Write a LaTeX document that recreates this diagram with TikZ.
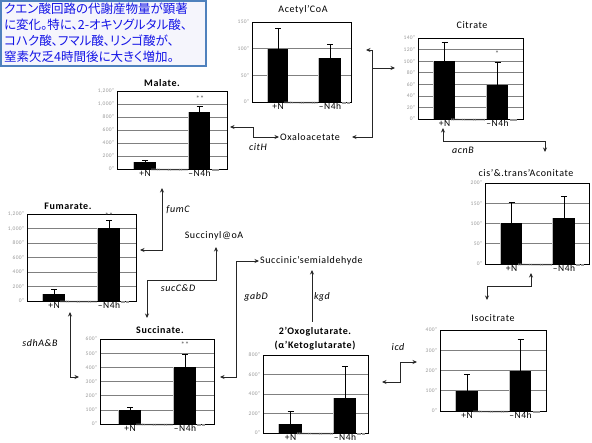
\documentclass[tikz,border=0pt]{standalone}
\usepackage{fontspec}
\setmainfont[LetterSpace=6]{Carlito}
\newfontfamily\jpfont[RawFeature=+palt]{Noto Sans CJK JP}
\usetikzlibrary{arrows.meta}
\pgfkeys{/pgf/number format/.cd, assume math mode=true, 1000 sep={,}}

\definecolor{rahmenblau}{RGB}{79,129,189}
\definecolor{textblau}{RGB}{20,20,230}
\definecolor{kastenfuell}{RGB}{245,245,252}

\tikzset{
    titel/.style={font=\fontsize{10}{11}\selectfont, inner sep=1pt},
    titelfett/.style={font=\fontsize{10}{11}\selectfont\bfseries, inner sep=1pt},
    gen/.style={font=\fontsize{10}{11}\selectfont\itshape, inner sep=1pt},
    achse/.style={font=\fontsize{5.5}{6}\selectfont, text=black!40, anchor=east, inner sep=0.5pt},
    xlabel/.style={font=\fontsize{9.5}{10}\selectfont, anchor=north, inner sep=0.8pt},
    gitter/.style={draw=black!50, line width=0.5pt},
    rahmen/.style={draw=black, line width=0.9pt},
    fehler/.style={draw=black, line width=0.7pt},
    fueller/.style={draw=black!40, line width=2.2pt, dash pattern=on 0.35pt off 0.75pt},
    stern/.style={font=\fontsize{8}{8}\selectfont, text=black!65, inner sep=0pt},
    pfeil/.style={draw=black!85, line width=0.8pt},
    infokasten/.style={draw=rahmenblau, line width=2pt, fill=kastenfuell},
    infotext/.style={font=\jpfont\fontsize{12.5}{15.8}\selectfont, text=textblau, align=left, inner sep=0pt}
}

% Balkendiagramm: #1 Name, #2/#3 linke untere Ecke, #4 Breite, #5 Hoehe,
% #6 ymax, #7 Schritt, #8 Balken (von/bis/Wert/Fehler/Beschriftung)
\newcommand{\diagramm}[8]{%
    \begin{scope}[shift={(#2,#3)}, yscale={-#5/#6}]
        \foreach \v in {0,#7,...,#6}{
            \draw[gitter] (0,\v) -- (#4,\v);
            \node[achse] at (-2,\v) {\pgfmathprintnumber{\v}"};
        }
        \foreach \xa/\xb/\wert/\fehl/\lab [count=\i] in {#8}{
            \fill[black!25] (\xa-1.5,0) rectangle (\xa,\wert);
            \fill (\xa,0) rectangle (\xb,\wert);
            \draw[fehler] ({(\xa+\xb)/2},\wert) -- ({(\xa+\xb)/2},\fehl);
            \draw[fehler] ({(\xa+\xb)/2-3},\fehl) -- ({(\xa+\xb)/2+3},\fehl);
            \node[xlabel] (#1-x\i) at ({(\xa+\xb)/2},0) {\lab};
        }
        \draw[rahmen] (0,0) rectangle (#4,#6);
    \end{scope}
    \draw[fueller] ([yshift=3.5pt]#1-x1.east) -- ([yshift=3.5pt]#1-x2.west);
    \draw[fueller] ([yshift=3.5pt]#1-x2.east) -- ++(7,0);
}

\begin{document}
\begin{tikzpicture}[x=1pt, y=-1pt, >={Stealth[length=4.5pt, width=4pt]}]
\useasboundingbox (0,0) rectangle (592,443);

% Hinweis oben links
\draw[infokasten] (1,1) rectangle (206,66);
\node[infotext, anchor=north west] (info) at (4,3) {クエン酸回路の代謝産物量が顕著\\に変化。特に、2-オキソグルタル酸、\\コハク酸、フマル酸、リンゴ酸が、\\窒素欠乏4時間後に大きく増加。};

% Diagramme
\diagramm{acoa}{252}{102}{99}{80}{150}{50}{16/36/100/139/+N, 67/89/83/108/–N4h}
\diagramm{cit}{418}{119}{105}{81}{140}{20}{16/37/100/132/+N, 69/90/58/98/–N4h}
\diagramm{mal}{117}{169}{110}{78}{1200}{200}{17/39/100/140/+N, 72/93/870/960/–N4h}
\diagramm{fum}{27}{301}{109}{87}{1200}{200}{16/38/100/160/+N, 71/93/1010/1110/–N4h}
\diagramm{acn}{485}{264}{104}{81}{200}{50}{16/37/100/152/+N, 68/90/113/168/–N4h}
\diagramm{icit}{440}{411}{106}{81}{400}{100}{16/38/100/183/+N, 70/91/197/355/–N4h}
\diagramm{suc}{100}{424}{114}{85}{600}{100}{19/41/100/120/+N, 74/96/400/495/–N4h}
\diagramm{oxg}{263}{433}{105}{78}{800}{200}{16/39/90/220/+N, 71/93/360/680/–N4h}

% Titel
\node[titel] (acoa-t) at (303,10) {Acetyl'CoA};
\node[titel] (cit-t) at (472,25) {Citrate};
\node[titelfett] (mal-t) at (162,83) {Malate.};
\node[titelfett] (fum-t) at (68,206) {Fumarate.};
\node[titel] (acn-t) at (526,173) {cis'\&.trans'Aconitate};
\node[titel] (icit-t) at (493,318) {Isocitrate};
\node[titelfett] (suc-t) at (160,330) {Succinate.};
\node[titelfett] (oxg-t) at (315,332) {2'Oxoglutarate.};
\node[titelfett] (oxg-t2) at (315,346) {(α'Ketoglutarate)};

% Sterne
\node[stern] (mal-s) at (200,99) {**};
\node[stern] (cit-s) at (497,54) {*};
\node[stern] (fum-s) at (109,216) {**};
\node[stern] (suc-s) at (185,345) {**};

% Stoffe ohne Diagramm
\node[titel, anchor=west] (oxa) at (279,137) {Oxaloacetate};
\node[titel] (sucoa) at (214,236) {Succinyl@oA};
\node[titel, anchor=west] (ssa) at (259,261) {Succinic'semialdehyde};

% Enzyme
\node[gen] (g-cith) at (258,147) {citH};
\node[gen] (g-acnb) at (463,150) {acnB};
\node[gen] (g-fumc) at (178,210) {fumC};
\node[gen] (g-succd) at (178,288) {sucC\&D};
\node[gen] (g-gabd) at (256,297) {gabD};
\node[gen] (g-kgd) at (322,297) {kgd};
\node[gen] (g-sdhab) at (40,343) {sdhA\&B};
\node[gen] (g-icd) at (398,347) {icd};

% Pfeilenden
\coordinate (malR) at (230,127);
\coordinate (acoaR) at (366,50);
\coordinate (oxaR) at (352,137);
\coordinate (knoten) at (372,68);
\coordinate (citL) at (395,68);
\coordinate (citU) at (443,128);
\coordinate (acnO) at (545,152);
\coordinate (acnU) at (531,273);
\coordinate (icitO) at (487,300);
\coordinate (oxgR) at (382,382);
\coordinate (icitL) at (417,362);
\coordinate (oxgO) at (312,322);
\coordinate (ssaU) at (312,270);
\coordinate (sucR) at (220,377);
\coordinate (sucoaU) at (216,247);
\coordinate (sucO) at (147,318);
\coordinate (fumR) at (140,250);
\coordinate (malU) at (162,188);
\coordinate (fumU) at (70,312);
\coordinate (sucL) at (79,377);

% Pfeile
\draw[pfeil, <->] (malR) -- ++(23,0) |- (oxa.west);
\draw[pfeil, ->] (knoten) -- (citL);
\draw[pfeil, ->] (knoten) |- (acoaR);
\draw[pfeil, ->] (knoten) |- (oxaR);
\draw[pfeil, <->] (citU) -- ++(0,13) -| (acnO);
\draw[pfeil, <->] (acnU) -- ++(0,13) -| (icitO);
\draw[pfeil, <->] (oxgR) -- ++(18,0) |- (icitL);
\draw[pfeil, ->] (oxgO) -- (ssaU);
\draw[pfeil, <->] (sucR) -- ++(16,0) |- (ssa.west);
\draw[pfeil, <->] (sucO) |- ++(69,-38) -- (sucoaU);
\draw[pfeil, <->] (fumR) -| (malU);
\draw[pfeil, <->] (fumU) |- (sucL);

\end{tikzpicture}
\end{document}
